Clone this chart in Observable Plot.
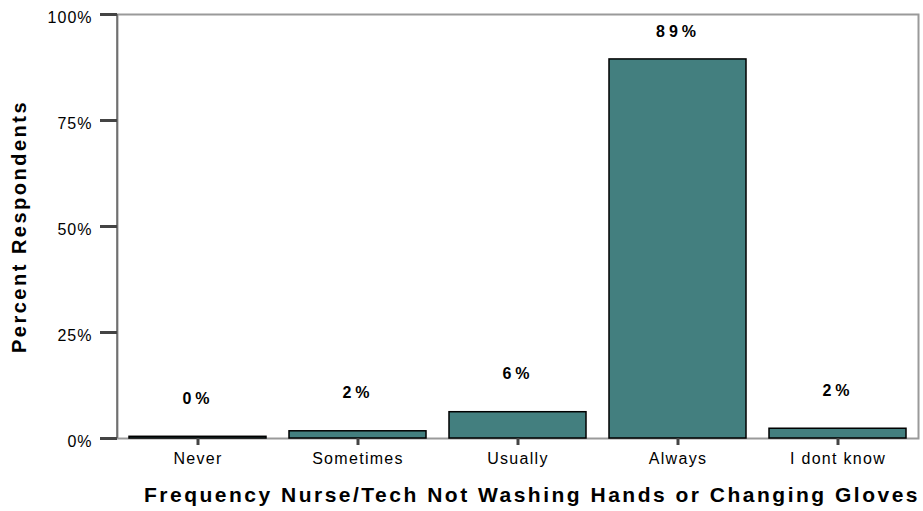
<!DOCTYPE html>
<html><head><meta charset="utf-8">
<script src="https://cdn.jsdelivr.net/npm/d3@7"></script>
<script src="https://cdn.jsdelivr.net/npm/@observablehq/plot@0.6"></script>
<style>
html,body{margin:0;padding:0;background:#fff;}
</style></head><body><div id="chart"></div>
<script>
const categories = ["Never", "Sometimes", "Usually", "Always", "I dont know"];
const percents = [0.4, 1.7, 6.2, 89.4, 2.3];
const yTicks = [0, 25, 50, 75, 100];
const xTitle = "Frequency Nurse/Tech Not Washing Hands or Changing Gloves";
const yTitle = "Percent Respondents";

const data = categories.map((c, i) => ({category: c, percent: percents[i]}));

const leftLine = (index, scales, values, dims) => {
  return d3.create("svg:line")
    .attr("x1", dims.marginLeft).attr("x2", dims.marginLeft)
    .attr("y1", dims.marginTop).attr("y2", dims.height - dims.marginBottom)
    .attr("stroke", "#555").attr("stroke-width", 1.2).node();
};

const chart = Plot.plot({
  width: 923, height: 511,
  marginLeft: 117, marginRight: 5, marginTop: 14, marginBottom: 73,
  style: {fontFamily: "'Liberation Sans', Arial, sans-serif", background: "#fff", color: "#000", fontSize: "16px"},
  x: {domain: categories, paddingInner: 0.144, paddingOuter: 0.072, label: null},
  y: {domain: [0, 100], label: null},
  marks: [
    Plot.frame({stroke: "#9a9a9a", strokeWidth: 2}),
    Plot.barY(data, {x: "category", y: "percent", fill: "#437f7f", stroke: "#000", strokeWidth: 1.5}),
    leftLine,
    Plot.axisY({ticks: yTicks, tickSize: 17, tickFormat: () => "", stroke: "#444", strokeWidth: 3}),
    Plot.text(yTicks, {y: d => d, frameAnchor: "left", text: d => d + "%", textAnchor: "end", dx: -25, dy: 3, fontSize: 16, fill: "#000"}),
    Plot.axisX({tickSize: 7, tickPadding: 7, stroke: "#444", strokeWidth: 3, fontSize: 16, fill: "#000"}),
    Plot.text(data, {x: "category", y: d => Math.min(d.percent + 9, 95.8), text: d => Math.round(d.percent) + "%", fontWeight: "bold", fontSize: 16, fill: "#000"}),
    Plot.text([yTitle], {frameAnchor: "left", textAnchor: "middle", lineAnchor: "middle", dx: -98, rotate: -90, fontWeight: "bold", fontSize: 20, fill: "#000"}),
    Plot.text([xTitle], {frameAnchor: "bottom", textAnchor: "middle", lineAnchor: "middle", dx: 14, dy: 57, fontWeight: "bold", fontSize: 21, fill: "#000"})
  ]
});

document.getElementById("chart").appendChild(chart);
const svg = d3.select(chart);
svg.selectAll('g[aria-label="x-axis tick label"] text').style("letter-spacing", "1.3px");
const textGroups = svg.selectAll('g[aria-label="text"]').nodes();
d3.select(textGroups[0]).selectAll("text").style("letter-spacing", "1px");
d3.select(textGroups[1]).selectAll("text").style("letter-spacing", "4px");
d3.select(textGroups[2]).selectAll("text").style("letter-spacing", "2.5px");
d3.select(textGroups[3]).selectAll("text").style("letter-spacing", "2.5px");
</script>
</body></html>
